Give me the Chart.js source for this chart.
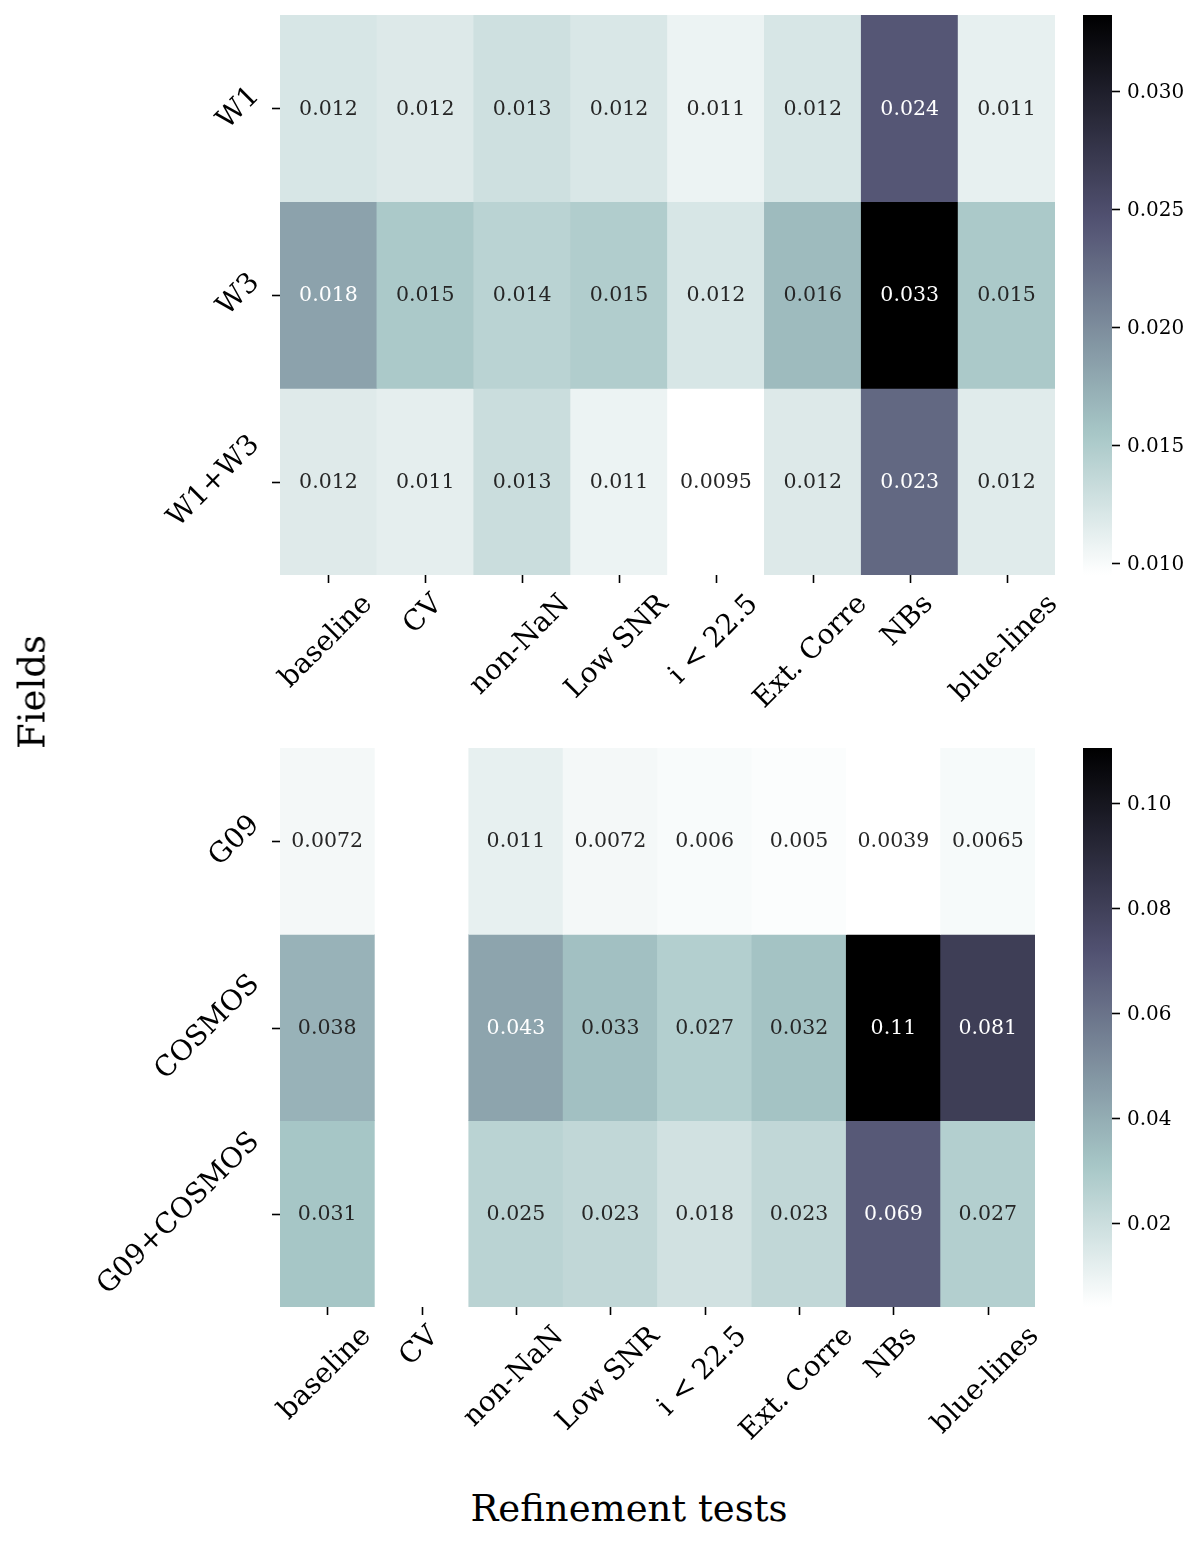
<!DOCTYPE html>
<html>
<head>
<meta charset="utf-8">
<script src="https://cdn.jsdelivr.net/npm/chart.js@4.4.1/dist/chart.umd.min.js"></script>
<style>
  html, body { margin: 0; padding: 0; background: #ffffff; }
  #wrap { position: relative; width: 1200px; height: 1544px; overflow: hidden; }
  canvas { position: absolute; }
  .title { position: absolute; font-family: 'DejaVu Serif', serif; font-size: 37px; color: #000; white-space: nowrap; }
</style>
</head>
<body>
<div id="wrap">
  <canvas id="topHeat" width="1200" height="740" style="left:0;top:0"></canvas>
  <canvas id="topBar" width="140" height="600" style="left:1060px;top:0"></canvas>
  <canvas id="botHeat" width="1200" height="740" style="left:0;top:740px"></canvas>
  <canvas id="botBar" width="140" height="590" style="left:1060px;top:740px"></canvas>
  <div class="title" id="ylab" style="left:32px;top:692px;transform:translate(-50%,-50%) rotate(-90deg);">Fields</div>
  <div class="title" id="xlab" style="left:629px;top:1508px;transform:translate(-50%,-50%);">Refinement tests</div>
</div>
<script>
// ---------------- data ----------------
const tests = ['baseline', 'CV', 'non-NaN', 'Low SNR', 'i < 22.5', 'Ext. Corre', 'NBs', 'blue-lines'];

const topFields = ['W1', 'W3', 'W1+W3'];
const topW1   = [0.0122, 0.0118, 0.0128, 0.0121, 0.0108, 0.0122, 0.0242, 0.0111];
const topW3   = [0.0183, 0.0152, 0.0142, 0.0148, 0.0122, 0.0164, 0.0332, 0.0152];
const topW1W3 = [0.0117, 0.0113, 0.0131, 0.0108, 0.0095, 0.0118, 0.0228, 0.0116];
const topTicks = [0.010, 0.015, 0.020, 0.025, 0.030];
const topTickLabels = ['0.010', '0.015', '0.020', '0.025', '0.030'];

const botFields = ['G09', 'COSMOS', 'G09+COSMOS'];
const botG09      = [0.0072, null, 0.0112, 0.0072, 0.0060, 0.0050, 0.0039, 0.0065];
const botCOSMOS   = [0.0380, null, 0.0430, 0.0330, 0.0270, 0.0320, 0.1105, 0.0810];
const botG09COS   = [0.0310, null, 0.0250, 0.0230, 0.0180, 0.0230, 0.0690, 0.0270];
const botTicks = [0.02, 0.04, 0.06, 0.08, 0.10];
const botTickLabels = ['0.02', '0.04', '0.06', '0.08', '0.10'];

// ---------------- colormap (matplotlib bone_r) ----------------
function bone(x) {
  x = Math.max(0, Math.min(1, x));
  let r, g, b;
  r = x < 0.746032 ? x / 0.746032 * 0.652778 : 0.652778 + (x - 0.746032) / (1 - 0.746032) * (1 - 0.652778);
  if (x < 0.365079) g = x / 0.365079 * 0.319444;
  else if (x < 0.746032) g = 0.319444 + (x - 0.365079) / (0.746032 - 0.365079) * (0.777778 - 0.319444);
  else g = 0.777778 + (x - 0.746032) / (1 - 0.746032) * (1 - 0.777778);
  b = x < 0.365079 ? x / 0.365079 * 0.444444 : 0.444444 + (x - 0.365079) / (1 - 0.365079) * (1 - 0.444444);
  return [r, g, b];
}
function boneR(t) { return bone(1 - t); }
function rgbStr(c) { return 'rgb(' + Math.round(c[0] * 255) + ',' + Math.round(c[1] * 255) + ',' + Math.round(c[2] * 255) + ')'; }
function lum(c) {
  const f = v => (v <= 0.03928 ? v / 12.92 : Math.pow((v + 0.055) / 1.055, 2.4));
  return 0.2126 * f(c[0]) + 0.7152 * f(c[1]) + 0.0722 * f(c[2]);
}
function fmt(v) { return String(Number(v.toPrecision(2))); }

const FONT = "'DejaVu Serif', serif";
const TICK_PX = 28;

// ---------------- heatmap ----------------
function makeHeat(canvasId, rowsLabels, rows, pad) {
  const flat = rows.flat().filter(v => v !== null);
  const vmin = Math.min(...flat), vmax = Math.max(...flat);
  const colorOf = v => boneR((v - vmin) / (vmax - vmin));
  const datasets = rows.map((row, i) => ({
    label: rowsLabels[i],
    data: row.map(v => (v === null ? null : [i, i + 1])),
    backgroundColor: row.map(v => (v === null ? 'rgba(0,0,0,0)' : rgbStr(colorOf(v)))),
    borderWidth: 0,
    grouped: false,
    barPercentage: 1.0,
    categoryPercentage: 1.0
  }));
  const annot = {
    id: 'annot',
    afterDatasetsDraw(chart) {
      const ctx = chart.ctx, xs = chart.scales.x, ys = chart.scales.y;
      ctx.save();
      ctx.font = '20.5px ' + FONT;
      ctx.textAlign = 'center';
      ctx.textBaseline = 'middle';
      rows.forEach((row, i) => row.forEach((v, j) => {
        if (v === null) return;
        const c = colorOf(v);
        ctx.fillStyle = lum(c) > 0.408 ? 'rgb(38,38,38)' : '#ffffff';
        ctx.fillText(fmt(v), xs.getPixelForValue(j), ys.getPixelForValue(i + 0.5) + 1);
      }));
      // tick marks
      ctx.strokeStyle = '#000';
      ctx.lineWidth = 1.6;
      const area = chart.chartArea;
      tests.forEach((t, j) => {
        const x = Math.round(xs.getPixelForValue(j)) + 0.5;
        ctx.beginPath(); ctx.moveTo(x, area.bottom); ctx.lineTo(x, area.bottom + 8); ctx.stroke();
      });
      rowsLabels.forEach((r, i) => {
        const y = Math.round(ys.getPixelForValue(i + 0.5)) + 0.5;
        ctx.beginPath(); ctx.moveTo(area.left - 8, y); ctx.lineTo(area.left, y); ctx.stroke();
      });
      // tick labels
      ctx.fillStyle = '#000';
      ctx.font = TICK_PX + 'px ' + FONT;
      const k = Math.SQRT1_2, h = TICK_PX * 0.9;
      tests.forEach((t, j) => {
        const w = ctx.measureText(t).width;
        const half = (w + h) * k / 2;
        const cx = xs.getPixelForValue(j) - 2, cy = area.bottom + 16 + half;
        ctx.save(); ctx.translate(cx, cy); ctx.rotate(-Math.PI / 4);
        ctx.fillText(t, 0, 0); ctx.restore();
      });
      rowsLabels.forEach((r, i) => {
        const w = ctx.measureText(r).width;
        const half = (w + h) * k / 2;
        const cx = area.left - 16 - half, cy = ys.getPixelForValue(i + 0.5);
        ctx.save(); ctx.translate(cx, cy); ctx.rotate(-Math.PI / 4);
        ctx.fillText(r, 0, 0); ctx.restore();
      });
      ctx.restore();
    }
  };
  return new Chart(document.getElementById(canvasId), {
    type: 'bar',
    data: { labels: tests, datasets },
    options: {
      responsive: false, animation: false, devicePixelRatio: 1,
      layout: { padding: pad },
      plugins: { legend: { display: false }, tooltip: { enabled: false } },
      scales: {
        x: { type: 'category', display: false, offset: true },
        y: { type: 'linear', display: false, min: 0, max: rows.length, reverse: true }
      }
    },
    plugins: [annot]
  });
}

// ---------------- colorbar ----------------
function makeBar(canvasId, rows, ticks, tickLabels, pad) {
  const flat = rows.flat().filter(v => v !== null);
  const vmin = Math.min(...flat), vmax = Math.max(...flat);
  const cbPlugin = {
    id: 'cbticks',
    afterDatasetsDraw(chart) {
      const ctx = chart.ctx, ys = chart.scales.y, area = chart.chartArea;
      ctx.save();
      ctx.strokeStyle = '#000'; ctx.lineWidth = 1.6;
      ctx.fillStyle = '#000'; ctx.font = '20px ' + FONT;
      ctx.textAlign = 'left'; ctx.textBaseline = 'middle';
      ticks.forEach((t, i) => {
        const y = Math.round(ys.getPixelForValue(t)) + 0.5;
        ctx.beginPath(); ctx.moveTo(area.right, y); ctx.lineTo(area.right + 8, y); ctx.stroke();
        ctx.fillText(tickLabels[i], area.right + 15, y + 1);
      });
      ctx.restore();
    }
  };
  return new Chart(document.getElementById(canvasId), {
    type: 'bar',
    data: {
      labels: ['cb'],
      datasets: [{
        data: [[vmin, vmax]],
        borderWidth: 0,
        barPercentage: 1.0, categoryPercentage: 1.0,
        backgroundColor: (c) => {
          const a = c.chart.chartArea;
          if (!a) return '#888';
          const g = c.chart.ctx.createLinearGradient(0, a.bottom, 0, a.top);
          const n = 64;
          for (let i = 0; i <= n; i++) g.addColorStop(i / n, rgbStr(boneR(i / n)));
          return g;
        }
      }]
    },
    options: {
      responsive: false, animation: false, devicePixelRatio: 1,
      layout: { padding: pad },
      plugins: { legend: { display: false }, tooltip: { enabled: false } },
      scales: {
        x: { type: 'category', display: false },
        y: { type: 'linear', display: false, min: vmin, max: vmax }
      }
    },
    plugins: [cbPlugin]
  });
}

const topRows = [topW1, topW3, topW1W3];
const botRows = [botG09, botCOSMOS, botG09COS];
makeHeat('topHeat', topFields, topRows, { left: 280, right: 145, top: 15, bottom: 165 });
makeHeat('botHeat', botFields, botRows, { left: 280, right: 165, top: 8, bottom: 173 });
makeBar('topBar', topRows, topTicks, topTickLabels, { left: 23, right: 88, top: 15, bottom: 25 });
makeBar('botBar', botRows, botTicks, botTickLabels, { left: 23, right: 88, top: 8, bottom: 23 });
</script>
</body>
</html>
